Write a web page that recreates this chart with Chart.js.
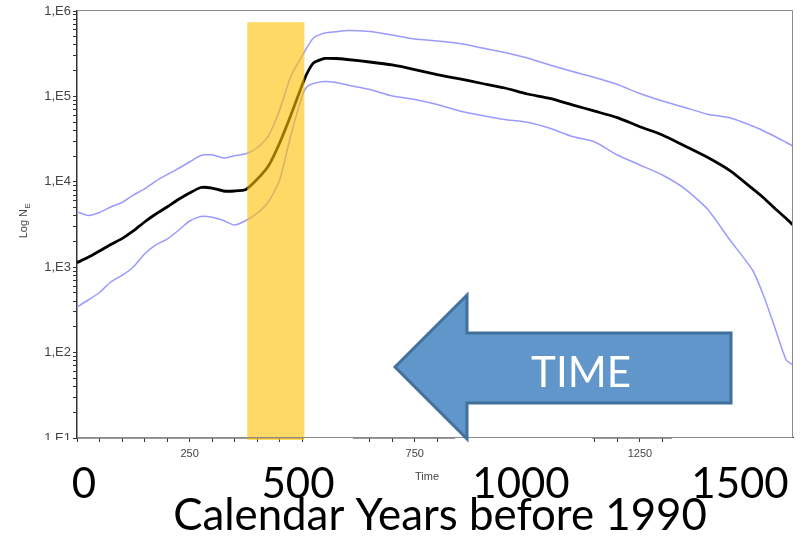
<!DOCTYPE html>
<html><head><meta charset="utf-8">
<script src="https://cdn.jsdelivr.net/npm/chart.js@4"></script>
<style>html,body{margin:0;padding:0;background:#fff}#wrap{width:803px;height:539px;position:relative}</style>
</head><body><div id="wrap"><canvas id="c" width="803" height="539"></canvas></div>
<script>
// ---- data ----
const years = [0,25,50,75,100,125,150,175,200,225,250,275,300,325,350,375,400,425,450,475,500,510,525,550,575,600,650,700,750,800,850,900,950,1000,1050,1100,1150,1200,1250,1300,1350,1400,1450,1500,1525,1550,1575,1590];
const medianNe = [1130,1306,1549,1845,2158,2655,3383,4198,5070,6209,7396,8576,8458,7804,7800,8128,10690,15310,28440,60530,135900,182700,246000,277900,277900,270400,252900,233300,206500,180300,159900,141600,125400,106700,95000,79760,67100,56460,44160,35320,26240,19360,13490,8300,6460,4866,3717,3119];
const upperNe = [4467,4030,4369,5070,5728,7000,8240,10210,12110,14320,17060,20320,20700,19010,20210,21280,24890,34360,69340,173400,297200,368900,483000,552200,572500,591100,575400,523600,469900,445500,416000,368900,326600,281800,233300,195900,166300,137700,108100,88310,74130,61940,56100,44980,39360,33890,28840,26240];
const lowerNe = [342,413,506,671,800,1005,1429,1820,2138,2690,3475,3926,3838,3524,3119,3524,4285,5794,10500,35320,101100,128800,141600,149300,145500,135900,120500,101100,92040,80350,67450,59700,53580,49770,42270,33890,29240,20610,15740,12020,8279,4800,2080,927,460,194,81.9,71.6];
const xTickLabels = [250, 750, 1250];
const bandYears = [378, 505];
const bandTopNe = 740000;
const calendarLabels = ['0', '500', '1000', '1500'];
const calendarTitle = 'Calendar Years before 1990';
const arrowText = 'TIME';
const yTitle = ['Log N', 'E'];
const xTitle = 'Time';

const pts = arr => arr.map((v, i) => ({x: years[i], y: v}));

const overlay = {
  id: 'overlay',
  afterDatasetsDraw(chart) {
    const {ctx, scales: {x, y}, chartArea: ca} = chart;
    ctx.save();
    const x1 = x.getPixelForValue(bandYears[0]), x2 = x.getPixelForValue(bandYears[1]);
    const yt = y.getPixelForValue(bandTopNe);
    ctx.fillStyle = 'rgba(255,192,0,0.6)';
    ctx.fillRect(x1, yt, x2 - x1, ca.bottom + 2 - yt);
    ctx.restore();
  },
  afterDraw(chart) {
    const {ctx, chartArea: ca} = chart;
    ctx.save();
    // white text boxes of the overlaid labels
    ctx.fillStyle = '#fff';
    [[20, 440, 54, 60], [304, 438, 49, 40], [455, 438, 137, 40], [672, 438, 131, 40]].forEach(r => ctx.fillRect(...r));
    // frame
    ctx.strokeStyle = '#8a8a8a'; ctx.lineWidth = 1;
    ctx.beginPath();
    ctx.moveTo(ca.left, ca.top - 0.5); ctx.lineTo(ca.right - 0.5, ca.top - 0.5);
    ctx.lineTo(ca.right - 0.5, ca.bottom - 0.5); ctx.lineTo(ca.left, ca.bottom - 0.5);
    ctx.stroke();
    // axis titles
    ctx.fillStyle = '#444';
    ctx.font = '11px "Liberation Sans", Arial, sans-serif';
    ctx.textAlign = 'center'; ctx.textBaseline = 'middle';
    ctx.fillText(xTitle, 427, 477);
    ctx.save();
    ctx.translate(23, 221); ctx.rotate(-Math.PI / 2);
    const w1 = ctx.measureText(yTitle[0]).width;
    ctx.font = '8px "Liberation Sans", Arial, sans-serif';
    const w2 = ctx.measureText(yTitle[1]).width;
    const sx = -(w1 + w2) / 2;
    ctx.textAlign = 'left'; ctx.textBaseline = 'alphabetic';
    ctx.font = '11px "Liberation Sans", Arial, sans-serif';
    ctx.fillText(yTitle[0], sx, 4);
    ctx.font = '8px "Liberation Sans", Arial, sans-serif';
    ctx.fillText(yTitle[1], sx + w1 + 0.5, 6.5);
    ctx.restore();
    // arrow
    ctx.beginPath();
    ctx.moveTo(395, 367); ctx.lineTo(467, 295); ctx.lineTo(467, 333); ctx.lineTo(731, 333);
    ctx.lineTo(731, 403); ctx.lineTo(467, 403); ctx.lineTo(467, 439); ctx.closePath();
    ctx.fillStyle = '#6096c9'; ctx.fill();
    ctx.strokeStyle = '#41719c'; ctx.lineWidth = 3; ctx.lineJoin = 'miter'; ctx.stroke();
    ctx.fillStyle = '#fff';
    ctx.font = '42px Lato, "Open Sans", sans-serif';
    ctx.textAlign = 'center'; ctx.textBaseline = 'alphabetic';
    ctx.fillText(arrowText, 581, 387);
    // calendar labels
    ctx.fillStyle = '#000';
    ctx.font = '42px Lato, "Open Sans", sans-serif';
    const cx = [84, 298, 521, 740];
    calendarLabels.forEach((t, i) => ctx.fillText(t, cx[i], 498));
    let fs = 38;
    ctx.font = fs + 'px Lato, "Open Sans", sans-serif';
    const tw = ctx.measureText(calendarTitle).width;
    fs = fs * 534 / tw;
    ctx.font = fs.toFixed(1) + 'px Lato, "Open Sans", sans-serif';
    ctx.fillText(calendarTitle, 440, 530);
    ctx.restore();
  }
};

new Chart(document.getElementById('c'), {
  type: 'line',
  data: {
    datasets: [
      {label: 'Median', data: pts(medianNe), borderColor: '#000', borderWidth: 2.8, pointRadius: 0, tension: 0.2},
      {label: 'Upper', data: pts(upperNe), borderColor: '#9a9aff', borderWidth: 1.5, pointRadius: 0, tension: 0.2},
      {label: 'Lower', data: pts(lowerNe), borderColor: '#9a9aff', borderWidth: 1.5, pointRadius: 0, tension: 0.2}
    ]
  },
  options: {
    responsive: false, animation: false,
    layout: {padding: {left: 0, top: 11, right: 10, bottom: 0}},
    plugins: {legend: {display: false}, tooltip: {enabled: false}},
    scales: {
      x: {
        type: 'linear', min: 0, max: 1590,
        afterFit(s) { s.height = 101; },
        afterBuildTicks(s) { const t = []; for (let v = 0; v <= 1550; v += 50) t.push({value: v}); s.ticks = t; },
        ticks: {autoSkip: false, maxRotation: 0, padding: 5, color: '#444',
          font: {family: '"Liberation Sans", Arial, sans-serif', size: 11},
          callback: v => xTickLabels.includes(v) ? String(v) : ''},
        grid: {drawOnChartArea: false, tickLength: 4, tickColor: '#333'},
        border: {color: '#333', width: 1.5}
      },
      y: {
        type: 'logarithmic', min: 10, max: 1e6,
        afterFit(s) { s.width = 77; },
        afterBuildTicks(s) { const t = []; for (let e = 1; e <= 5; e++) for (let m = 1; m <= 9; m++) t.push({value: m * Math.pow(10, e)}); t.push({value: 1e6}); s.ticks = t; },
        ticks: {autoSkip: false, padding: 2, color: '#444',
          font: {family: '"Liberation Sans", Arial, sans-serif', size: 13},
          callback: v => { const e = Math.log10(v); return Math.abs(e - Math.round(e)) < 1e-9 ? '1,E' + Math.round(e) : ''; }},
        grid: {drawOnChartArea: false, tickLength: 4, tickColor: '#333'},
        border: {color: '#333', width: 1.5}
      }
    }
  },
  plugins: [overlay]
});
</script>
</body></html>
